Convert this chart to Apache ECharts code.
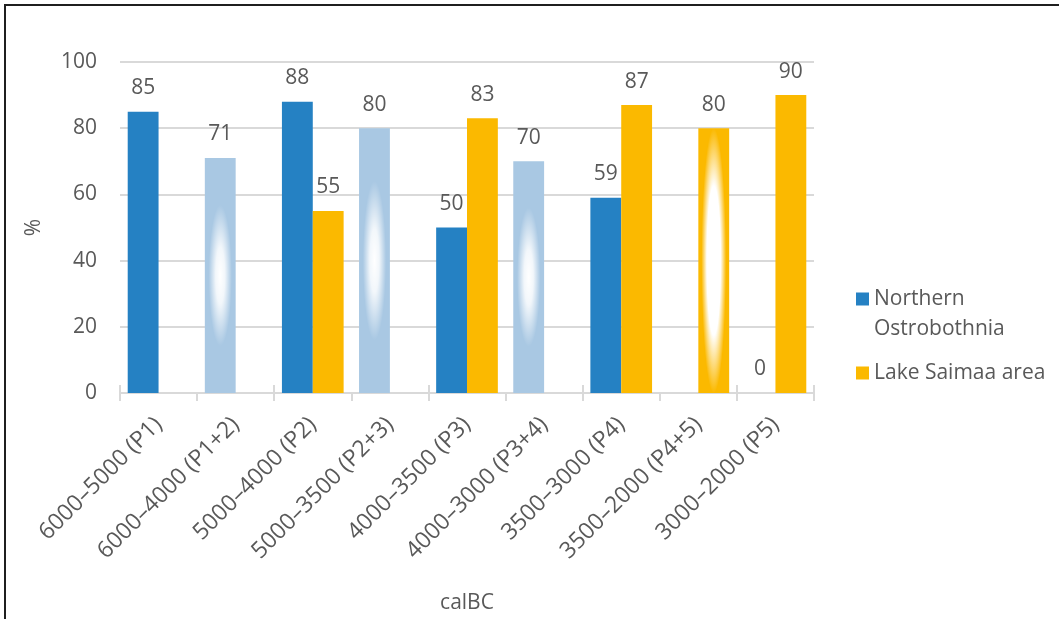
<!DOCTYPE html>
<html>
<head>
<meta charset="utf-8">
<script src="https://cdn.jsdelivr.net/npm/echarts@6/dist/echarts.min.js"></script>
<style>
  html, body { margin: 0; padding: 0; background: #ffffff; }
  #chart { width: 1059px; height: 619px; }
</style>
</head>
<body>
<div id="chart"></div>
<script>
// Period categories (calBC)
const categories = [
  '6000–5000 (P1)', '6000–4000 (P1+2)', '5000–4000 (P2)', '5000–3500 (P2+3)',
  '4000–3500 (P3)', '4000–3000 (P3+4)', '3500–3000 (P4)', '3500–2000 (P4+5)',
  '3000–2000 (P5)'
];
// Share (%) per region; null = no value for that period
const northern = [85, 71, 88, 80, 50, 70, 59, null, 0];
const saimaa   = [null, null, 55, null, 83, null, 87, 80, 90];
// Transitional (overlapping) periods
const transitional = [false, true, false, true, false, true, false, true, false];
const seriesNames = ['Northern Ostrobothnia', 'Lake Saimaa area'];
const yTicks = [0, 20, 40, 60, 80, 100];

const FONT = '"Open Sans", "Noto Sans", sans-serif';
const TEXT = '#595959';
const GRIDC = '#d9d9d9';
const BLUE = '#2581c3';
const BLUE_LIGHT = '#a9c8e3';
const GOLD = '#fbb900';
const CAT_GAP = 0.2;

function barItems(values, solid, light) {
  return values.map((v, i) => v == null ? null : {
    value: v,
    itemStyle: { color: transitional[i] ? light : solid }
  });
}

// overlay data for the glowing transitional bars: [category, value, side]
const glowData = [];
transitional.forEach((t, i) => {
  if (!t) return;
  if (northern[i] != null) glowData.push([i, northern[i], 0]);
  if (saimaa[i] != null) glowData.push([i, saimaa[i], 1]);
});

const glowStyle = [
  { stretch: 0.8, stops: [[0, 1], [0.3, 0.85], [0.75, 0]] },
  { stretch: 1.25, stops: [[0, 1], [0.45, 1], [0.8, 0]] }
];

function renderGlow(params, api) {
  const idx = api.value(0), val = api.value(1), side = api.value(2);
  const base = api.coord([idx, 0]);
  const top = api.coord([idx, val]);
  const band = api.size([1, 0])[0];
  const bw = band * (1 - CAT_GAP) / 2;
  const left = base[0] - bw + side * bw;
  const h = base[1] - top[1];
  const g = glowStyle[side];
  const s = g.stretch * h / bw;
  const cy = (base[1] + top[1]) / 2;
  return {
    type: 'rect',
    x: left,
    y: cy - bw * s / 2,
    scaleY: s,
    shape: { x: 0, y: 0, width: bw, height: bw },
    style: {
      fill: {
        type: 'radial', x: 0.5, y: 0.5, r: 0.5,
        colorStops: g.stops.map(([o, a]) => ({ offset: o, color: 'rgba(255,255,255,' + a + ')' }))
      }
    },
    silent: true
  };
}

const labelStyle = {
  show: true, position: 'top', distance: 13,
  fontSize: 21, color: TEXT, fontFamily: FONT
};

const chart = echarts.init(document.getElementById('chart'), null, { renderer: 'canvas' });
chart.setOption({
  animation: false,
  backgroundColor: '#ffffff',
  textStyle: { fontFamily: FONT },
  grid: { left: 120, right: 245, top: 62, bottom: 222, containLabel: false },
  legend: {
    data: seriesNames,
    orient: 'vertical',
    left: 856,
    top: 254,
    padding: 0,
    itemWidth: 13,
    itemHeight: 13,
    itemGap: 14,
    icon: 'rect',
    selectedMode: false,
    formatter: name => name.length > 16 ? ' \n' + name.replace(' ', '\n') : name,
    textStyle: { fontSize: 21, color: TEXT, fontFamily: FONT, lineHeight: 30 }
  },
  xAxis: [{
    type: 'category',
    data: categories,
    name: 'calBC',
    nameLocation: 'middle',
    nameGap: 200,
    nameTextStyle: { fontSize: 21, color: TEXT, fontFamily: FONT },
    axisLine: { lineStyle: { color: GRIDC, width: 2 } },
    axisTick: { show: true, length: 8, lineStyle: { color: GRIDC, width: 2 } },
    axisLabel: { rotate: 45, margin: 28, fontSize: 23, color: TEXT, fontFamily: FONT, interval: 0 }
  }, {
    type: 'category',
    data: categories,
    position: 'bottom',
    axisLine: { show: false },
    axisTick: { show: true, inside: true, length: 8, lineStyle: { color: GRIDC, width: 2 } },
    axisLabel: { show: false }
  }],
  yAxis: {
    type: 'value',
    min: yTicks[0],
    max: yTicks[yTicks.length - 1],
    interval: yTicks[1] - yTicks[0],
    name: '%',
    nameLocation: 'middle',
    nameGap: 75,
    nameRotate: 90,
    nameTextStyle: { fontSize: 21, color: TEXT, fontFamily: FONT },
    axisLine: { show: false },
    axisTick: { show: false },
    splitLine: { lineStyle: { color: GRIDC, width: 2 } },
    axisLabel: { fontSize: 21, color: TEXT, fontFamily: FONT, margin: 23 }
  },
  series: [{
    name: seriesNames[0],
    type: 'bar',
    itemStyle: { color: BLUE },
    barGap: '0%',
    barCategoryGap: (CAT_GAP * 100) + '%',
    data: barItems(northern, BLUE, BLUE_LIGHT),
    label: labelStyle
  }, {
    name: seriesNames[1],
    type: 'bar',
    itemStyle: { color: GOLD },
    barGap: '0%',
    barCategoryGap: (CAT_GAP * 100) + '%',
    data: barItems(saimaa, GOLD, GOLD),
    label: labelStyle
  }, {
    name: 'glow',
    type: 'custom',
    renderItem: renderGlow,
    data: glowData,
    encode: { x: 0, y: 1 },
    silent: true,
    z: 3
  }],
  graphic: [{
    type: 'rect',
    shape: { x: 5, y: 5, width: 1200, height: 800 },
    style: { fill: 'none', stroke: '#1f1f1f', lineWidth: 2 },
    silent: true,
    z: 100
  }]
});
</script>
</body>
</html>
